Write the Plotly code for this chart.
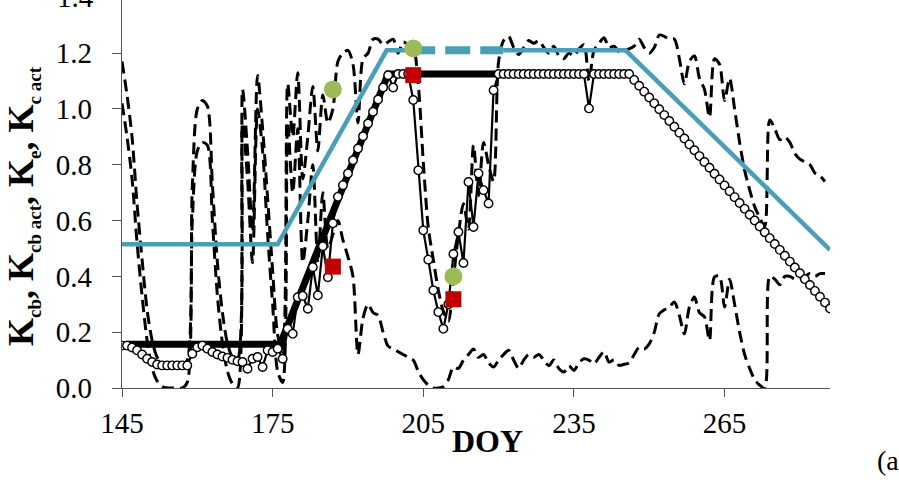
import plotly.graph_objects as go

# ---------------- data ----------------
doy_k = list(range(145, 286))  # daily, dashed series
ke = [1.02, 0.90, 0.75, 0.52, 0.33, 0.17, 0.07, 0.025, 0.005, 0.0,
      0.0, 0.0, 0.0, 0.02, 0.60, 0.85, 0.88, 0.87, 0.60, 0.33,
      0.16, 0.06, 0.015, 0.0, 0.95, 0.75, 0.45, 1.0, 0.85, 0.55,
      0.30, 0.06, 0.02, 0.95, 0.70, 0.93, 0.45, 0.60, 0.80, 0.45,
      0.70, 0.50, 0.55, 0.60, 0.53, 0.47, 0.40, 0.12, 0.25, 0.30,
      0.27, 0.26, 0.20, 0.15, 0.14, 0.13, 0.12, 0.11, 0.10, 0.06,
      0.03, 0.01, 0.0, 0.0, 0.005, 0.03, 0.075, 0.07, 0.10, 0.12,
      0.14, 0.11, 0.12, 0.09, 0.075, 0.10, 0.12, 0.135, 0.10, 0.07,
      0.10, 0.12, 0.11, 0.12, 0.10, 0.08, 0.10, 0.07, 0.057, 0.08,
      0.063, 0.09, 0.105, 0.10, 0.087, 0.11, 0.13, 0.093, 0.10, 0.081,
      0.085, 0.09, 0.12, 0.146, 0.14, 0.158, 0.20, 0.266, 0.28, 0.29,
      0.308, 0.26, 0.194, 0.29, 0.326, 0.27, 0.255, 0.17, 0.398, 0.40,
      0.29, 0.39, 0.30, 0.20, 0.12, 0.07, 0.03, 0.01, 0.0, 0.40,
      0.39, 0.37, 0.40, 0.40, 0.39, 0.39, 0.40, 0.41, 0.40, 0.41,
      0.41]
kc_act = [1.17, 1.05, 0.90, 0.66, 0.46, 0.28, 0.17, 0.11, 0.09, 0.081,
          0.081, 0.081, 0.081, 0.10, 0.72, 1.0, 1.03, 1.01, 0.73, 0.45,
          0.27, 0.16, 0.11, 0.10, 1.07, 0.85, 0.56, 1.12, 0.93, 0.68,
          0.42, 0.19, 0.13, 1.09, 0.90, 1.13, 0.75, 0.90, 1.08, 0.85,
          1.05, 0.95, 1.00, 1.17, 1.20, 1.21, 1.16, 0.95, 1.18, 1.20,
          1.25, 1.25, 1.23, 1.24, 1.25, 1.20, 1.24, 1.23, 1.22, 1.09,
          0.81, 0.575, 0.46, 0.35, 0.275, 0.24, 0.39, 0.55, 0.66, 0.57,
          0.87, 0.69, 0.88, 0.80, 0.74, 1.17, 1.245, 1.26, 1.22, 1.195,
          1.22, 1.245, 1.235, 1.245, 1.22, 1.20, 1.225, 1.19, 1.18, 1.20,
          1.19, 1.215, 1.23, 1.10, 1.21, 1.235, 1.255, 1.22, 1.225, 1.205,
          1.21, 1.215, 1.225, 1.25, 1.22, 1.20, 1.22, 1.265, 1.26, 1.25,
          1.25, 1.18, 1.09, 1.17, 1.19, 1.11, 1.07, 0.97, 1.18, 1.16,
          1.03, 1.11, 1.00, 0.88, 0.78, 0.71, 0.65, 0.61, 0.58, 0.96,
          0.93, 0.89, 0.90, 0.88, 0.84, 0.82, 0.81, 0.80, 0.77, 0.76,
          0.74]

doy_c = list(range(145, 287))  # daily, circle series
kcb_act = [0.152, 0.152, 0.145, 0.135, 0.12, 0.105, 0.093, 0.084, 0.081, 0.081,
           0.081, 0.081, 0.081, 0.081, 0.123, 0.146, 0.152, 0.141, 0.129, 0.12,
           0.113, 0.108, 0.101, 0.096, 0.093, 0.069, 0.105, 0.111, 0.075, 0.135,
           0.129, 0.141, 0.105, 0.212, 0.194, 0.325, 0.33, 0.284, 0.433, 0.332,
           0.508, 0.397, 0.59, 0.685, 0.727, 0.769, 0.816, 0.858, 0.902, 0.948,
           0.99, 1.034, 1.077, 1.121, 1.077, 1.125, 1.125, 1.125, 1.032, 0.78,
           0.565, 0.46, 0.35, 0.272, 0.212, 0.30, 0.48, 0.559, 0.448, 0.738,
           0.577, 0.769, 0.709, 0.661, 1.067, 1.125, 1.125, 1.125, 1.125, 1.125,
           1.125, 1.125, 1.125, 1.125, 1.125, 1.125, 1.125, 1.125, 1.125, 1.125,
           1.125, 1.125, 1.125, 1.002, 1.125, 1.125, 1.125, 1.125, 1.125, 1.125,
           1.125, 1.125, 1.104, 1.083, 1.062, 1.041, 1.020, 0.999, 0.978, 0.957,
           0.936, 0.915, 0.894, 0.873, 0.852, 0.831, 0.810, 0.789, 0.768, 0.747,
           0.726, 0.705, 0.684, 0.663, 0.642, 0.621, 0.600, 0.579, 0.558, 0.537,
           0.516, 0.495, 0.474, 0.453, 0.432, 0.411, 0.390, 0.369, 0.348, 0.327,
           0.306, 0.285]

kcb_doy = [145, 176, 197.7, 202.4, 220.9, 245.3, 286]
kcb_val = [0.515, 0.515, 1.21, 1.21, 1.21, 1.21, 0.495]
kcb_stress_doy = [202.4, 220.9]
kcb_stress_val = [1.21, 1.21]

kcb_adj_doy = [145.8, 176.5, 198, 220.3]
kcb_adj_val = [0.157, 0.157, 1.125, 1.125]

obs_doy = [187, 203, 211]
kc_obs = [1.07, 1.217, 0.40]
kcb_obs = [0.435, 1.121, 0.318]

x_ticks = [145, 175, 205, 235, 265]
y_ticks = [0.0, 0.2, 0.4, 0.6, 0.8, 1.0, 1.2]

# ---------------- figure ----------------
W, H = 899, 492
L, R, T, B = 122, 69, 0, 104
PW, PH = W - L - R, H - T - B
YMAX = 1.3904
TEAL = "#4A9FB8"
SERIF = "Liberation Serif"


def px(xp):
    return (xp - L) / PW


def py(yp):
    return (H - B - yp) / PH


fig = go.Figure()

fig.add_trace(go.Scatter(x=doy_k, y=ke, mode="lines",
                         line=dict(color="black", width=3, dash="12px,6px",
                                   shape="spline", smoothing=0.8)))
fig.add_trace(go.Scatter(x=doy_k, y=kc_act, mode="lines",
                         line=dict(color="black", width=3, dash="12px,6px",
                                   shape="spline", smoothing=0.8)))

kx = kcb_doy[:4] + [None] + kcb_doy[4:]
ky = kcb_val[:4] + [None] + kcb_val[4:]
fig.add_trace(go.Scatter(x=kx, y=ky, mode="lines", connectgaps=False,
                         line=dict(color=TEAL, width=4.5)))
fig.add_trace(go.Scatter(x=kcb_stress_doy, y=kcb_stress_val, mode="lines",
                         line=dict(color=TEAL, width=8, dash="25px,10px")))

fig.add_trace(go.Scatter(x=kcb_adj_doy, y=kcb_adj_val, mode="lines",
                         line=dict(color="black", width=7)))

fig.add_trace(go.Scatter(x=doy_c, y=kcb_act, mode="lines+markers",
                         line=dict(color="black", width=2.2),
                         marker=dict(symbol="circle", size=8.5, color="white",
                                     line=dict(color="black", width=1.4))))

fig.add_trace(go.Scatter(x=obs_doy, y=kc_obs, mode="markers",
                         marker=dict(symbol="circle", size=18, color="#9BBB59")))
fig.add_trace(go.Scatter(x=obs_doy, y=kcb_obs, mode="markers",
                         marker=dict(symbol="square", size=16, color="#C00000")))

axis_common = dict(showgrid=False, zeroline=False, showline=True,
                   linecolor="#555555", linewidth=1.3, ticks="outside",
                   tickcolor="#555555", tickwidth=1.3,
                   tickfont=dict(family=SERIF, size=29, color="black"))

fig.update_xaxes(range=[145, 286], tickmode="array", tickvals=x_ticks,
                 ticktext=[str(v) for v in x_ticks], ticklen=8,
                 ticklabelstandoff=1, **axis_common)
fig.update_yaxes(range=[0, YMAX], tickmode="array", tickvals=y_ticks,
                 ticktext=[f"{v:.1f}" for v in y_ticks], ticklen=9,
                 ticklabelstandoff=14, **axis_common)

ytitle = ("K<sub><span style='font-size:19px'>cb</span></sub>, "
          "K<sub><span style='font-size:19px'>cb act</span></sub>, "
          "K<sub><span style='font-size:19px'>e</span></sub>, "
          "K<sub><span style='font-size:19px'>c act</span></sub>")

fig.update_layout(
    width=W, height=H, showlegend=False,
    margin=dict(l=L, r=R, t=T, b=B, pad=0),
    paper_bgcolor="white", plot_bgcolor="white",
    annotations=[
        dict(text="1.4", xref="paper", yref="paper", x=px(96), y=1.4 / YMAX,
             xanchor="right", yanchor="middle", showarrow=False,
             font=dict(family=SERIF, size=29, color="black")),
        dict(text="<b>DOY</b>", xref="paper", yref="paper", x=px(487.5), y=py(441),
             xanchor="center", yanchor="middle", showarrow=False,
             font=dict(family=SERIF, size=32, color="black")),
        dict(text="(a)", xref="paper", yref="paper", x=px(875), y=py(460),
             xanchor="left", yanchor="middle", showarrow=False,
             font=dict(family=SERIF, size=28, color="black")),
        dict(text="<b>" + ytitle + "</b>", xref="paper", yref="paper",
             x=px(23), y=py(206), xanchor="center", yanchor="middle",
             textangle=-90, showarrow=False,
             font=dict(family=SERIF, size=36, color="black")),
    ],
)

fig.write_html("out.html")
